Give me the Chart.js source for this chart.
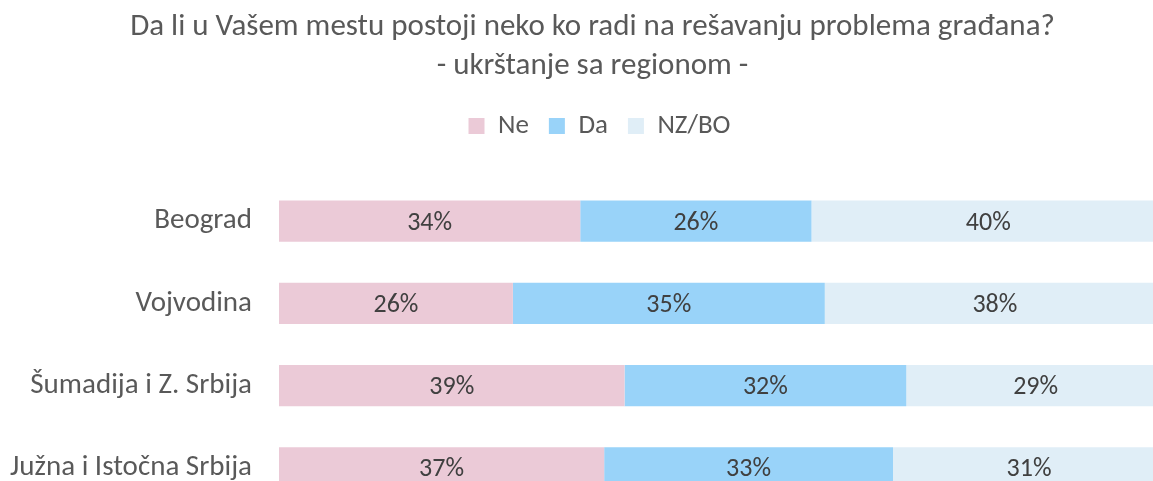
<!DOCTYPE html>
<html>
<head>
<meta charset="utf-8">
<script src="https://cdn.jsdelivr.net/npm/chart.js@4"></script>
<style>
  html, body { margin: 0; padding: 0; background: #fff; overflow: hidden; }
  #wrap { width: 1153px; height: 481px; overflow: hidden; }
</style>
</head>
<body>
<div id="wrap"><canvas id="region-chart" width="1185" height="520"></canvas></div>
<script>
const regions = ["Beograd", "Vojvodina", "Šumadija i Z. Srbija", "Južna i Istočna Srbija"];
const neValues = [34.0, 26.4, 39.0, 36.7];
const daValues = [26.1, 35.2, 31.8, 32.6];
const nzboValues = [39.9, 38.4, 29.2, 30.7];
const seriesNames = ["Ne", "Da", "NZ/BO"];
const titleLines = ["Da li u Vašem mestu postoji neko ko radi na rešavanju problema građana?", "- ukrštanje sa regionom -"];

const FONT = "Carlito, Calibri, Lato, sans-serif";

// draws the % value in the middle of every bar segment
const barValueLabels = {
  id: "barValueLabels",
  afterDatasetsDraw(chart) {
    const ctx = chart.ctx;
    ctx.save();
    ctx.font = "26px " + FONT;
    ctx.fillStyle = "#404040";
    ctx.textAlign = "center";
    ctx.textBaseline = "middle";
    chart.data.datasets.forEach((ds, i) => {
      const meta = chart.getDatasetMeta(i);
      meta.data.forEach((bar, j) => {
        const cx = (bar.x + bar.base) / 2;
        ctx.fillText(Math.round(ds.data[j]) + "%", cx, bar.y + 2);
      });
    });
    ctx.restore();
  },
};

// extra room under the legend, and let the long region names use the left margin
const layoutTweaks = {
  id: "layoutTweaks",
  beforeInit(chart) {
    const origFit = chart.legend.fit;
    chart.legend.fit = function () {
      origFit.bind(chart.legend)();
      this.height += 30.5;
    };
  },
  afterLayout(chart) {
    chart.scales.y.left = 0;
    chart.legend.left += 7;
    chart.legend.right += 7;
  },
};

const ctx = document.getElementById("region-chart").getContext("2d");
new Chart(ctx, {
  type: "bar",
  data: {
    labels: regions,
    datasets: [
      { label: seriesNames[0], data: neValues, backgroundColor: "#EBCAD7" },
      { label: seriesNames[1], data: daValues, backgroundColor: "#99D3F9" },
      { label: seriesNames[2], data: nzboValues, backgroundColor: "#E0EEF7" },
    ],
  },
  options: {
    indexAxis: "y",
    responsive: false,
    animation: false,
    devicePixelRatio: 1,
    datasets: {
      bar: { barPercentage: 0.5, categoryPercentage: 1.0 },
    },
    layout: { padding: { left: 20, right: 20, top: 8, bottom: 11 } },
    scales: {
      x: { stacked: true, min: 0, max: 100, display: false },
      y: {
        stacked: true,
        grid: { display: false, drawTicks: false },
        border: { display: false },
        ticks: { color: "#595959", font: { family: FONT, size: 29 }, padding: 27 },
        afterFit(scale) {
          scale.width = 259;
          scale.paddingTop = 0;
          scale.paddingBottom = 0;
        },
      },
    },
    plugins: {
      title: {
        display: true,
        text: titleLines,
        color: "#595959",
        font: { family: FONT, size: 31, weight: "normal", lineHeight: 39 / 31 },
        padding: { top: 0, bottom: 6.5 },
      },
      legend: {
        position: "top",
        labels: {
          color: "#595959",
          font: { family: FONT, size: 27 },
          boxWidth: 16,
          boxHeight: 16,
          padding: 20,
        },
      },
      tooltip: { enabled: false },
    },
  },
  plugins: [barValueLabels, layoutTweaks],
});
</script>
</body>
</html>
